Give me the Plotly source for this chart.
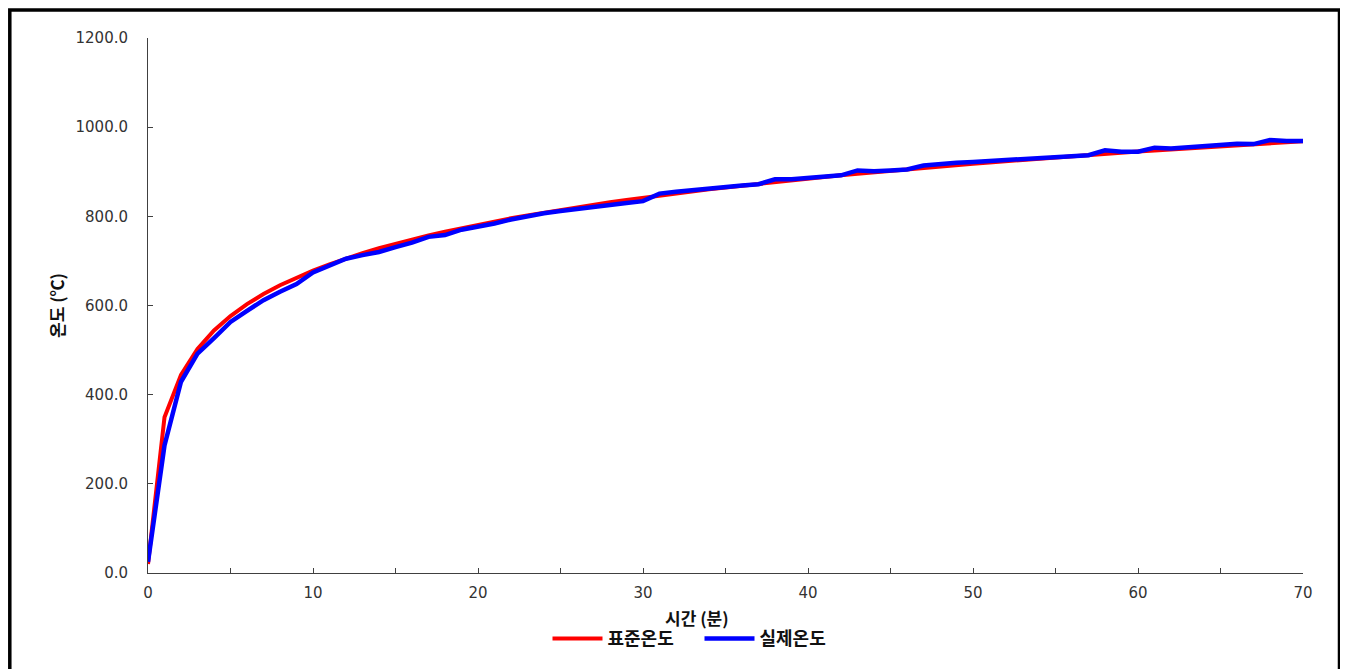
import plotly.graph_objects as go

time_min = list(range(0, 71))

standard_temp = [
    20.0, 349.2, 444.5, 502.3, 543.9, 576.4, 603.1, 625.8, 645.5, 662.8,
    678.4, 692.5, 705.4, 717.3, 728.3, 738.6, 748.2, 757.2, 765.7, 773.7,
    781.3, 788.6, 795.6, 802.2, 808.5, 814.6, 820.4, 826.1, 831.5, 836.7,
    841.8, 846.7, 851.4, 856.0, 860.5, 864.8, 869.0, 873.1, 877.1, 881.0,
    884.7, 888.4, 892.0, 895.5, 899.0, 902.3, 905.6, 908.8, 912.0, 915.1,
    918.1, 921.0, 923.9, 926.8, 929.6, 932.3, 935.0, 937.7, 940.3, 942.8,
    945.3, 947.8, 950.3, 952.6, 955.0, 957.3, 959.6, 961.9, 964.1, 966.2,
    968.4,
]

actual_temp = [
    25.0, 286.0, 429.0, 492.0, 527.0, 563.0, 588.0, 612.0, 631.0, 648.0,
    674.0, 690.0, 705.0, 713.0, 720.0, 731.0, 741.0, 754.0, 758.0, 770.0,
    776.0, 784.0, 793.0, 801.0, 807.0, 812.0, 817.0, 822.0, 826.0, 830.0,
    834.0, 851.0, 855.0, 859.0, 862.0, 866.0, 869.0, 872.0, 883.0, 883.0,
    886.0, 889.0, 892.0, 903.0, 901.0, 903.0, 905.0, 914.0, 918.0, 920.0,
    922.0, 924.0, 926.0, 928.0, 930.0, 933.0, 935.0, 937.0, 948.0, 945.0,
    945.0, 954.0, 952.0, 955.0, 959.0, 960.0, 963.0, 962.0, 971.0, 969.0,
    969.0,
]

series_names = ["표준온도", "실제온도"]
x_title = "시간 (분)"
y_title = "온도 (℃)"
x_ticks = [0, 10, 20, 30, 40, 50, 60, 70]
y_ticks = [0, 200, 400, 600, 800, 1000, 1200]

fig = go.Figure()
fig.add_trace(go.Scatter(x=time_min, y=standard_temp, mode="lines", name=series_names[0],
                         line=dict(color="#ff0000", width=4)))
fig.add_trace(go.Scatter(x=time_min, y=actual_temp, mode="lines", name=series_names[1],
                         line=dict(color="#0000ff", width=4.5)))

# page body has an 8px margin, so figure coords = screen coords - 8
W, H = 1340, 661
L, R, T, B = 140, 45, 30, 94
pw, ph = W - L - R, H - T - B

def px_to_paper_x(px):
    return (px - L) / pw

def px_to_paper_y(py):
    return (H - B - py) / ph

AXIS_COLOR = "#404040"
TITLE_FONT = dict(family="Noto Sans CJK KR", size=17, color="#111111", weight="bold")

fig.update_layout(
    width=W, height=H,
    margin=dict(l=L, r=R, t=T, b=B),
    paper_bgcolor="white", plot_bgcolor="white",
    font=dict(family="DejaVu Sans, sans-serif", color="#333333"),
    showlegend=True,
    legend=dict(orientation="h", x=px_to_paper_x(539.5), xanchor="left",
                y=px_to_paper_y(633), yanchor="middle",
                font=dict(family="Noto Sans CJK KR", size=18, color="#111111", weight="bold"),
                itemwidth=50, entrywidth=87, traceorder="normal"),
    shapes=[dict(type="rect", xref="paper", yref="paper",
                 x0=px_to_paper_x(1.8), x1=px_to_paper_x(1331.5),
                 y0=px_to_paper_y(680), y1=px_to_paper_y(1.8),
                 line=dict(color="black", width=3.5), layer="below")],
    annotations=[dict(text=x_title, xref="paper", yref="paper",
                      x=px_to_paper_x(688.5), y=px_to_paper_y(612), xanchor="center", yanchor="middle",
                      showarrow=False, font=TITLE_FONT)],
)

fig.update_xaxes(
    range=[0, 70], tickvals=x_ticks, ticktext=[str(v) for v in x_ticks],
    showline=True, linecolor=AXIS_COLOR, linewidth=1,
    ticks="inside", ticklen=5, tickcolor=AXIS_COLOR,
    minor=dict(dtick=5, ticks="inside", ticklen=5, tickcolor=AXIS_COLOR),
    showgrid=False, zeroline=False,
    tickfont=dict(size=15, color="#333333"),
    ticklabelstandoff=6,
)
fig.update_yaxes(
    range=[0, 1200], tickvals=y_ticks, tickformat=".1f",
    showline=True, linecolor=AXIS_COLOR, linewidth=1,
    ticks="inside", ticklen=5, tickcolor=AXIS_COLOR,
    showgrid=False, zeroline=False,
    tickfont=dict(size=15, color="#333333"),
    ticklabelstandoff=16,
    title=dict(text=y_title, font=TITLE_FONT, standoff=6),
)

fig.write_html("out.html")
